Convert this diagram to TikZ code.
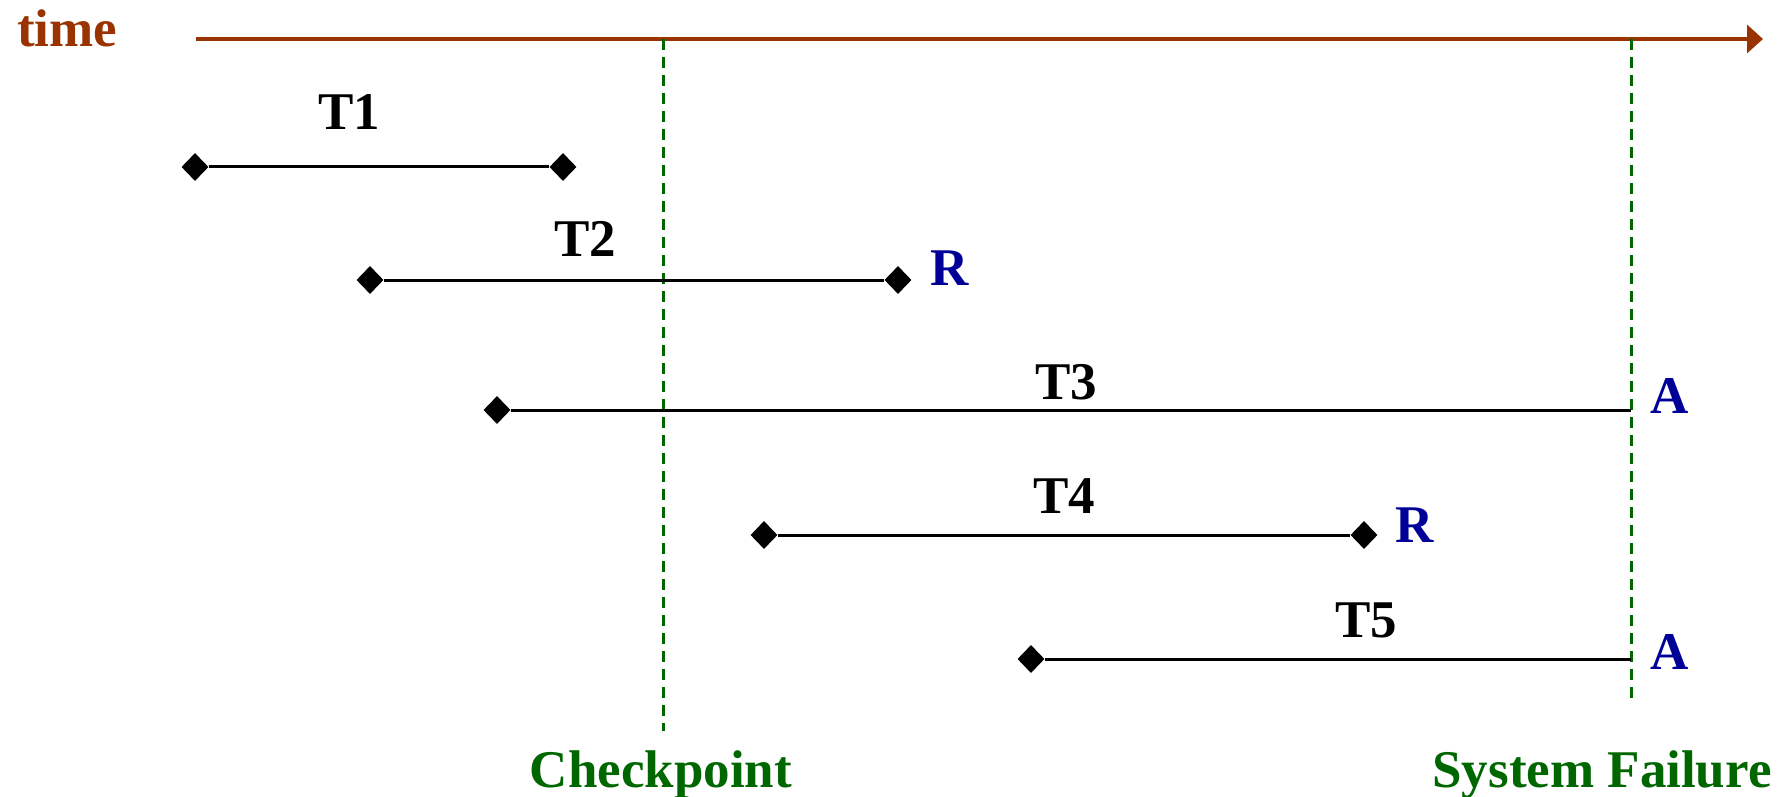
\documentclass[tikz,border=0pt]{standalone}
\usepackage{fontspec}
\setmainfont{Liberation Serif}
\usetikzlibrary{shapes.geometric,arrows.meta}
\definecolor{timebrown}{RGB}{153,51,0}
\definecolor{chkgreen}{RGB}{0,102,0}
\definecolor{resblue}{RGB}{0,0,153}
\tikzset{
  lbl/.style={font=\fontsize{53}{60}\selectfont\bfseries, inner sep=0pt, anchor=base},
  endpt/.style={diamond, fill=black, draw=none, minimum width=27pt, minimum height=28pt, inner sep=0pt},
  txline/.style={line width=3pt, black},
  guide/.style={line width=3pt, chkgreen, dash pattern=on 11pt off 7pt},
  axis/.style={line width=3.5pt, timebrown, -{Triangle[length=16pt,width=28pt]}}
}
\begin{document}
\begin{tikzpicture}[x=1pt,y=-1pt]
\useasboundingbox (0,0) rectangle (1789,797);
% time axis
\node[lbl, timebrown, anchor=base west] (timelbl) at (17,47) {time};
\coordinate (ax0) at (196,39);
\coordinate (ax1) at (1763,39);
\draw[axis] (ax0) -- (ax1);
% guides
\coordinate (cp0) at (663,39);
\coordinate (cp1) at (663,731);
\coordinate (sf0) at (1631,39);
\coordinate (sf1) at (1631,702);
\draw[guide] (cp0) -- (cp1);
\draw[guide] (sf0) -- (sf1);
\node[lbl, chkgreen] (cplbl) at (661,787) {Checkpoint};
\node[lbl, chkgreen] (sflbl) at (1602,787) {System Failure};
% T1
\node[endpt] (a1) at (195,167) {};
\node[endpt] (b1) at (563,167) {};
\draw[txline] (a1) -- (b1);
\node[lbl] (t1) at (349,130) {T1};
% T2
\node[endpt] (a2) at (370,280) {};
\node[endpt] (b2) at (898,280) {};
\draw[txline] (a2) -- (b2);
\node[lbl] (t2) at (585,256) {T2};
\node[lbl, resblue] (r2) at (950,285) {R};
% T3
\node[endpt] (a3) at (497,410) {};
\coordinate (b3) at (1631,410);
\draw[txline] (a3) -- (b3);
\node[lbl] (t3) at (1066,399) {T3};
\node[lbl, resblue] (ab3) at (1670,413) {A};
% T4
\node[endpt] (a4) at (764,535) {};
\node[endpt] (b4) at (1364,535) {};
\draw[txline] (a4) -- (b4);
\node[lbl] (t4) at (1064,513) {T4};
\node[lbl, resblue] (r4) at (1415,542) {R};
% T5
\node[endpt] (a5) at (1031,659) {};
\coordinate (b5) at (1631,659);
\draw[txline] (a5) -- (b5);
\node[lbl] (t5) at (1366,637) {T5};
\node[lbl, resblue] (ab5) at (1670,669) {A};
\end{tikzpicture}
\end{document}
